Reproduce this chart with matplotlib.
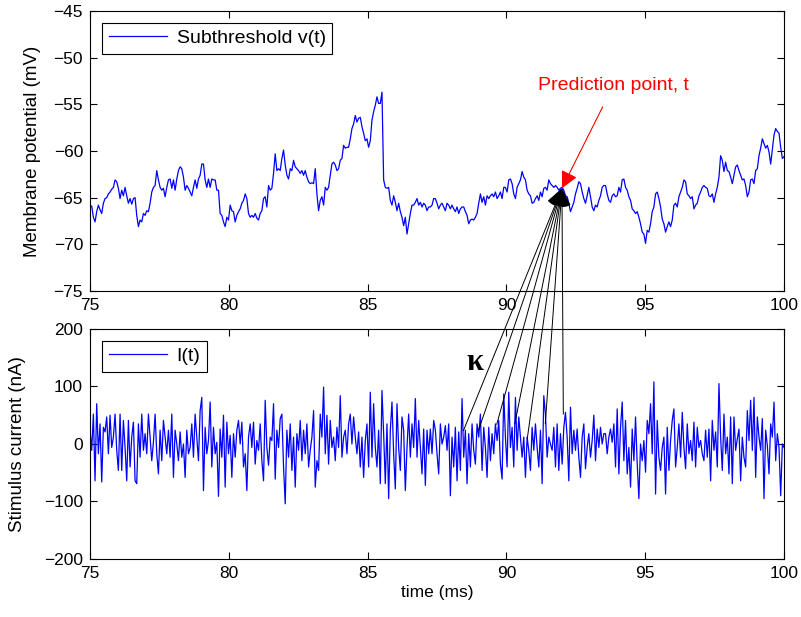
import numpy as np
import matplotlib
matplotlib.use("Agg")
import matplotlib.pyplot as plt
from matplotlib.patches import ConnectionPatch

plt.rcParams['font.family'] = ['Liberation Sans', 'DejaVu Sans']
plt.rcParams['font.size'] = 12

# Subthreshold membrane potential v(t), mV (uniformly sampled over 75-100 ms)
v_mem = [
    -66.0, -65.9, -67.1, -67.6, -66.5, -65.8, -66.3, -66.7, -65.6, -65.1,
    -65.0, -64.6, -64.4, -64.1, -63.9, -63.1, -63.3, -64.0, -65.1, -64.2,
    -64.8, -63.9, -64.8, -65.6, -65.1, -65.7, -65.1, -65.0, -66.9, -68.1,
    -67.4, -67.6, -66.7, -66.9, -66.4, -66.5, -65.6, -64.4, -63.9, -63.7,
    -62.1, -63.1, -63.9, -64.2, -64.0, -64.9, -63.9, -63.1, -63.0, -64.0,
    -63.1, -64.2, -63.0, -62.1, -61.7, -61.9, -62.8, -64.2, -63.7, -64.0,
    -64.4, -64.8, -63.9, -63.1, -64.0, -63.0, -62.6, -61.4, -61.4, -63.1,
    -63.9, -63.0, -63.9, -63.0, -63.1, -63.1, -64.2, -64.2, -66.7, -66.9,
    -67.6, -68.1, -67.1, -67.4, -65.8, -66.4, -66.5, -67.6, -66.9, -66.5,
    -66.2, -65.6, -65.3, -64.6, -65.1, -66.7, -67.1, -66.9, -67.1, -66.7,
    -67.2,
    -67.4, -66.7, -66.4, -65.1, -64.9, -66.0, -63.7, -64.2, -64.0, -62.4,
    -60.3, -62.1, -61.9, -62.1, -60.8, -59.9, -61.5, -62.6, -63.0, -61.9,
    -62.1, -61.0, -61.7, -61.9, -62.1, -62.4, -62.1, -62.6, -62.1, -62.8,
    -63.3, -63.5, -63.4, -63.5, -61.9, -64.6, -66.4, -65.3, -64.9, -65.8,
    -63.9, -64.2, -63.9, -62.6, -61.4, -61.2, -61.5, -62.1, -61.9, -61.0,
    -60.8, -59.4, -59.7, -59.6, -59.6, -58.7, -57.6, -57.1, -56.2, -56.9,
    -56.5, -56.4, -57.4, -58.1, -58.9, -58.7, -59.6, -58.9, -56.7, -55.8,
    -55.1, -54.2, -54.9, -54.9, -53.7, -63.1, -63.9, -64.0, -63.9, -65.3,
    -65.8, -64.8, -65.5, -66.4, -65.6, -66.5, -67.1, -68.0, -67.1, -68.9,
    -67.8, -66.7, -65.8, -65.8, -65.5, -65.1, -65.8, -65.5, -66.0, -65.6,
    -65.8, -66.4, -66.0, -66.0, -65.8, -65.1,
    -65.1, -65.6, -66.2, -65.8, -65.6, -66.0, -66.4, -65.6, -65.8, -66.2,
    -65.8, -66.2, -66.5, -66.0, -66.7, -66.2, -66.0, -66.0, -66.5, -66.9,
    -67.8, -67.4, -67.3, -67.4, -67.1, -66.7, -65.6, -64.6, -65.5, -64.9,
    -65.8, -64.8, -65.1, -64.8, -64.6, -64.9, -64.4, -65.1, -64.8, -64.4,
    -65.1, -63.9, -63.9, -64.4, -63.1, -63.0, -63.5, -64.6, -65.1, -63.9,
    -63.5, -63.1, -62.2, -62.8, -63.1, -64.2, -64.6, -64.8, -65.6, -65.5,
    -65.1, -64.8, -65.3, -64.4, -64.9, -64.0, -63.9, -64.2, -63.1, -63.5,
    -63.7, -63.9, -63.7, -63.9, -64.2, -64.0, -63.9, -64.2, -64.8, -64.9,
    -65.6, -66.5, -66.0, -65.5, -64.6, -64.0, -63.3, -63.5, -64.4, -65.1,
    -65.6, -64.8, -63.9, -64.9, -66.0, -66.4, -65.8, -66.0, -65.3, -64.8,
    -63.9, -63.7,
    -63.7, -64.6, -65.3, -65.5, -64.8, -64.6, -64.9, -64.8, -63.9, -64.4,
    -63.1, -63.0, -63.9, -64.2, -64.9, -65.3, -66.2, -66.4, -66.7, -66.5,
    -67.1, -67.8, -68.7, -68.9, -69.9, -68.5, -68.7, -67.8, -66.5, -66.0,
    -64.6, -64.4, -65.1, -66.0, -67.3, -67.8, -68.7, -68.1, -67.6, -68.1,
    -67.4, -65.8, -65.6, -66.0, -64.9, -64.4, -63.9, -63.1, -63.3, -64.6,
    -64.8, -65.1, -64.9, -66.2, -65.8, -65.6, -64.8, -64.4, -63.9, -63.7,
    -63.9, -64.0, -64.8, -64.9, -64.6, -65.5, -64.6, -63.9, -62.8, -60.5,
    -61.0, -62.2, -61.2, -62.1, -62.2, -62.8, -63.5, -62.6, -61.7, -61.5,
    -62.1, -62.6, -63.1, -63.0, -63.7, -64.9, -64.4, -63.1, -63.0, -63.5,
    -62.1, -61.9, -60.5, -59.7, -58.7, -59.2, -59.7, -59.4, -60.1, -61.4,
    -59.9, -58.3, -57.6, -57.9, -58.1, -59.6, -60.8, -60.6,
]

# Injected stimulus current I(t), nA (uniformly sampled over 75-100 ms)
i_stim = [
    26, -11, 52, -64, 70, -17, 35, -66, 29, 21,
    47, -17, 50, -6, 12, 52, -11, -46, 52, -46,
    41, -6, -64, 41, -40, 12, 38, -64, -69, 35,
    -23, 52, -11, 18, -17, 52, 12, -29, 3, 52,
    -17, -52, 24, -29, 41, 12, -17, 24, -23, 52,
    -58, 24, 0, -29, 21, -23, 0, -58, 24, -17,
    -6, 35, -23, 52, 12, -29, 58, 81, -81, 29,
    -17, 6, 73, -40, 29, -17, 3, -91, 26, -23,
    50, -75, 38, -17, 15, -58, 18, -23, 24, 41,
    0, 38, -40, -17, -81, 12, 35, -6, 38, -35, 6,
    -11, 35, -29, -64, 76, -6, -37, 12, 6, 70,
    -61, 24, -6, 44, 52, -40, -104, 24, -23, 35,
    -46, 12, -75, 18, -11, 41, -29, 24, -17, 35,
    -40, -11, 12, 58, -75, -29, -46, 52, 12, 99,
    -17, 50, -35, 41, -6, 12, -29, 29, -6, 84,
    -23, 12, 24, -17, 35, 52, 0, 47, 12, -17,
    21, -40, 12, -58, 6, 35, -40, 90, -23, 70,
    -6, -40, 24, -69, 93, 18, -69, 35, -95, 24,
    73, -17, -78, 70, -6, -46, 47, 24, -81, -6,
    52, -23, 35, -6, 79, -23, 41, -6, -52, 26,
    -72, 24, -17, 26, -17, 41,
    24, -17, -52, 35, 0, 12, 32, -11, 35, -90,
    12, -40, 29, -64, 21, -46, 79, -23, 24, -69,
    18, -40, 35, -11, -35, 35, 12, 52, -46, 29,
    -6, -58, 29, -29, 18, -17, 35, 6, 41, -35,
    -61, 87, 12, -40, 90, -6, 29, -40, 81, -11,
    47, 12, -23, 12, -58, 12, -11, -46, 29, -11,
    35, -6, -40, 24, -69, 84, 52, -23, 12, 0,
    -11, 29, -40, 35, -46, 18, -35, 29, 55, 12,
    -64, 64, -17, 24, -11, 26, -23, -58, 12, 35,
    -43, -6, 18, -23, 6, 50, -29, 26, -6, 29,
    0, 18,
    18, -17, 12, 26, 3, 35, -40, 61, -52, 29,
    73, -29, 41, -52, -6, -75, 26, -29, 47, -35,
    -95, 0, -29, 6, -49, 41, 18, 70, -17, 108,
    -87, 41, -23, -46, -6, 12, -87, 29, -46, 6,
    41, 61, -40, -6, 35, -23, 55, -6, -43, 35,
    -17, 6, -29, 38, -40, 29, -6, 6, -17, -29,
    24, -23, 26, -64, 41, -11, 21, -40, 105, 12,
    -46, 52, -17, 12, -52, 47, -69, 47, -11, 9,
    26, -64, 12, -23, -40, 58, 6, 76, -11, 81,
    -58, 47, 12, -11, 44, -95, 24, -3, -52, 35,
    12, 73, -29, 18, -6, -90, 0, -6,
]

# Kernel taps: current samples feeding the prediction at time t
kappa_t = [88.45, 89.0, 89.65, 90.3, 90.75, 91.4, 92.05]
kappa_i = [23, 25, 34, 35, 9, 35, 52]
pred_t, pred_v = 92.0, -64.0

t_v = np.linspace(75, 100, len(v_mem))
t_i = np.linspace(75, 100, len(i_stim))

fig = plt.figure(figsize=(8.01, 6.17), dpi=100)
ax1 = fig.add_axes([0.1124, 0.5284, 0.8664, 0.4538])
ax2 = fig.add_axes([0.1124, 0.0940, 0.8664, 0.3728])

ax1.plot(t_v, v_mem, color='#0000ff', lw=0.9, label='Subthreshold v(t)')
ax2.plot(t_i, i_stim, color='#0000ff', lw=0.9, label='I(t)')

ax1.set_xlim(75, 100)
ax1.set_ylim(-75, -45)
ax1.set_yticks(np.arange(-75, -44, 5))
ax2.set_xlim(75, 100)
ax2.set_ylim(-200, 200)
ax2.set_yticks(np.arange(-200, 201, 100))

for ax in (ax1, ax2):
    ax.set_xticks(np.arange(75, 101, 5))
    ax.tick_params(direction='in', top=True, right=True, length=5,
                   width=0.8, labelsize=12.5, pad=5)
    for s in ax.spines.values():
        s.set_linewidth(0.8)
    leg = ax.legend(loc='upper left', fancybox=False, edgecolor='black',
                    framealpha=1, fontsize=14, handlelength=3.0,
                    handletextpad=0.5, borderpad=0.35, borderaxespad=0.6)
    leg.get_frame().set_linewidth(0.8)

ax1.set_ylabel('Membrane potential (mV)', fontsize=13.5)
ax2.set_ylabel('Stimulus current (nA)', fontsize=13.5)
ax2.set_xlabel('time (ms)', fontsize=12.5, labelpad=3)
ax1.yaxis.set_label_coords(-0.071, 0.5)
ax2.yaxis.set_label_coords(-0.092, 0.5)

# Red annotation at the prediction point
ax1.annotate('Prediction point, t', xy=(pred_t, pred_v), xytext=(93.85, -53.0),
             color='red', fontsize=14, ha='center', va='center',
             arrowprops=dict(arrowstyle='-|>', color='red', lw=0.8,
                             mutation_scale=26, shrinkA=8, shrinkB=0))

# Kernel arrows from the current trace up to the prediction point
for kt, ki in zip(kappa_t, kappa_i):
    cp = ConnectionPatch(xyA=(kt, ki), coordsA=ax2.transData,
                         xyB=(pred_t, pred_v), coordsB=ax1.transData,
                         arrowstyle='-|>', color='black', lw=0.7,
                         mutation_scale=28, shrinkA=0, shrinkB=0, zorder=5)
    fig.add_artist(cp)

ax2.text(88.85, 142, 'κ', family=['Liberation Serif', 'DejaVu Serif'],
         fontsize=22, fontweight='bold', ha='center', va='center')

fig.savefig('out.png', dpi=100)
